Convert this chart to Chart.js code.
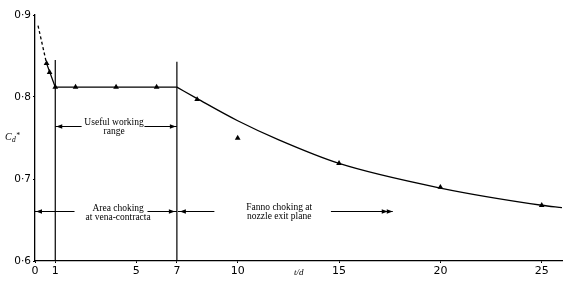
<!DOCTYPE html>
<html><head><meta charset="utf-8">
<script src="https://cdn.jsdelivr.net/npm/chart.js@4/dist/chart.umd.min.js"></script>
<style>html,body{margin:0;padding:0;background:#fff}#w{width:569px;height:282px}</style>
</head><body><div id="w"><canvas id="c" width="569" height="282"></canvas></div>
<script>
// Data
const xTicks = [0, 1, 5, 7, 10, 15, 20, 25];
const yTicks = [0.6, 0.7, 0.8, 0.9];
const pointsTd = [0.57, 0.72, 1, 2, 4, 6, 8, 10, 15, 20, 25];
const pointsCd = [0.841, 0.830, 0.812, 0.812, 0.812, 0.812, 0.797, 0.750, 0.719, 0.690, 0.668];
const dashTd = [0.15, 0.57];
const dashCd = [0.887, 0.841];
const straightTd = [0.57, 1, 7];
const straightCd = [0.841, 0.812, 0.812];
const curveTd = [7, 8, 10, 12, 15, 20, 25, 26];
const curveCd = [0.812, 0.798, 0.771, 0.748, 0.719, 0.689, 0.668, 0.665];
const markerTd = [1, 7];
const markerTop = [0.845, 0.843];

const pts = (xs, ys) => xs.map((x, i) => ({x, y: ys[i]}));

const annoPlugin = {
  id: 'anno',
  afterDatasetsDraw(chart) {
    const ctx = chart.ctx, xs = chart.scales.x, ys = chart.scales.y;
    const X = v => xs.getPixelForValue(v), Y = v => ys.getPixelForValue(v);
    ctx.save();
    ctx.strokeStyle = '#000'; ctx.fillStyle = '#000'; ctx.lineWidth = 1;
    function head(x, y, dir) {
      ctx.beginPath();
      ctx.moveTo(x, y);
      ctx.lineTo(x - dir * 6, y - 2.2);
      ctx.lineTo(x - dir * 6, y + 2.2);
      ctx.closePath(); ctx.fill();
    }
    function seg(xa, xb, y) {
      ctx.beginPath(); ctx.moveTo(xa, y); ctx.lineTo(xb, y); ctx.stroke();
    }
    function txt(lines, cx, y0, dy) {
      ctx.font = '9.5px "Liberation Serif", serif';
      ctx.textAlign = 'center'; ctx.textBaseline = 'middle';
      lines.forEach((l, i) => ctx.fillText(l, cx, y0 + i * dy));
    }
    // Useful working range
    let y = Math.round(Y(0.7646)) + 0.5;
    let a = X(1), b = X(7);
    seg(a, X(2.3), y); seg(X(5.4), b, y);
    head(a + 1, y, -1); head(b - 1, y, 1);
    txt(['Useful working', 'range'], X(3.9), y - 4, 9);
    // Area choking
    y = Math.round(Y(0.661)) + 0.5;
    a = X(0); b = X(7);
    seg(a, X(1.95), y); seg(X(5.55), b, y);
    head(a + 1, y, -1); head(b - 2, y, 1);
    txt(['Area choking', 'at vena-contracta'], X(4.1), y - 3, 8.5);
    // Fanno choking
    const c = X(17.65);
    seg(b + 1, X(8.85), y); seg(X(14.6), c, y);
    head(b + 3, y, -1); head(c, y, 1); head(c - 5, y, 1);
    txt(['Fanno choking at', 'nozzle exit plane'], X(12.05), y - 4, 8.5);
    // axis titles
    ctx.textAlign = 'left'; ctx.textBaseline = 'alphabetic';
    ctx.font = 'italic 10px "Liberation Serif", serif';
    ctx.fillText('C', 5, 140);
    ctx.font = 'italic 7.5px "Liberation Serif", serif';
    ctx.fillText('d', 12, 142);
    ctx.fillText('*', 16, 138);
    ctx.font = 'italic 9px "Liberation Serif", serif';
    ctx.fillText('t/d', 294, 275);
    ctx.restore();
  }
};

new Chart(document.getElementById('c'), {
  type: 'scatter',
  data: {
    datasets: [
      {data: pts(dashTd, dashCd), showLine: true, borderColor: '#000', borderWidth: 1.3, borderDash: [3, 2.5], pointRadius: 0},
      {data: pts(straightTd, straightCd), showLine: true, borderColor: '#000', borderWidth: 1.3, pointRadius: 0},
      {data: pts(curveTd, curveCd), showLine: true, borderColor: '#000', borderWidth: 1.3, pointRadius: 0, cubicInterpolationMode: 'monotone'},
      {data: [{x: markerTd[0], y: 0.6}, {x: markerTd[0], y: markerTop[0]}], showLine: true, borderColor: '#000', borderWidth: 1.2, pointRadius: 0},
      {data: [{x: markerTd[1], y: 0.6}, {x: markerTd[1], y: markerTop[1]}], showLine: true, borderColor: '#000', borderWidth: 1.2, pointRadius: 0},
      {data: pts(pointsTd, pointsCd), showLine: false, pointStyle: 'triangle', pointRadius: 3.3, backgroundColor: '#000', borderColor: '#000', borderWidth: 0}
    ]
  },
  options: {
    responsive: false, animation: false,
    layout: {padding: {top: 15, right: 7, left: 0, bottom: 0}},
    plugins: {legend: {display: false}, tooltip: {enabled: false}},
    scales: {
      x: {
        type: 'linear', min: 0, max: 26,
        afterBuildTicks: s => { s.ticks = xTicks.map(v => ({value: v})); },
        afterFit: s => { s.height = 21; },
        border: {display: true, color: '#000', width: 1.3},
        grid: {display: true, drawOnChartArea: false, drawTicks: true, tickLength: 2, color: '#000'},
        ticks: {color: '#000', font: {family: '"DejaVu Sans", sans-serif', size: 11}, padding: 2, maxRotation: 0, autoSkip: false}
      },
      y: {
        type: 'linear', min: 0.6, max: 0.9,
        afterBuildTicks: s => { s.ticks = yTicks.map(v => ({value: v})); },
        afterFit: s => { s.width = 35; },
        border: {display: true, color: '#000', width: 1.3},
        grid: {display: true, drawOnChartArea: false, drawTicks: true, tickLength: 2, color: '#000'},
        ticks: {color: '#000', font: {family: '"DejaVu Sans", sans-serif', size: 10.5}, padding: 2,
          callback: v => v.toFixed(1).replace('.', '·')}
      }
    }
  },
  plugins: [annoPlugin]
});
</script></body></html>
